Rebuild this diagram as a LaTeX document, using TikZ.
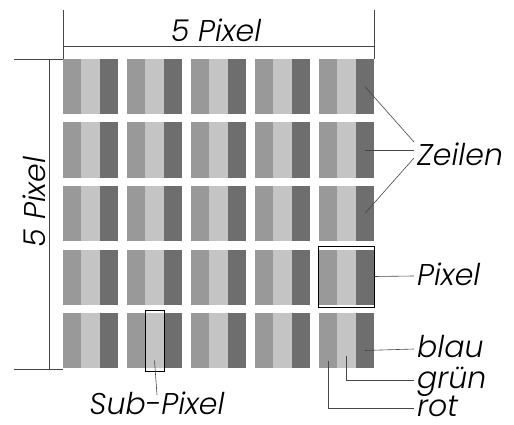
\documentclass[tikz,border=0pt]{standalone}
\usepackage{fontspec}
\setmainfont{Poppins}[UprightFont={* Light}, ItalicFont={* Light Italic}]
\usepackage{xcolor}
\definecolor{subRed}{RGB}{153, 153, 153}
\definecolor{subGreen}{RGB}{196, 196, 196}
\definecolor{subBlue}{RGB}{110, 110, 110}
\definecolor{lineGray}{RGB}{70, 70, 70}
\tikzset{
  subpix/.style={inner sep=0pt, minimum width=18.4pt, minimum height=55pt},
  dimline/.style={draw=lineGray, line width=0.8pt},
  leader/.style={draw=lineGray, line width=0.6pt},
  lbl/.style={font=\fontsize{30}{32}\selectfont\itshape, inner sep=3pt}
}

\begin{document}
\begin{tikzpicture}[x=1pt, y=-1pt]
  \useasboundingbox (0,0) rectangle (514,425);

  % Pixel grid: 5 x 5 pixels, each three sub-pixels
  \foreach \c in {0,...,4} {
    \foreach \r in {0,...,4} {
      \node[subpix, fill=subRed]   (r-\c-\r) at ({63+64*\c+9.17},  {59+63.5*\r+27.5}) {};
      \node[subpix, fill=subGreen] (g-\c-\r) at ({63+64*\c+27.5},  {59+63.5*\r+27.5}) {};
      \node[subpix, fill=subBlue]  (b-\c-\r) at ({63+64*\c+45.83}, {59+63.5*\r+27.5}) {};
    }
  }

  % Dimension top
  \draw[dimline] (63,10) -- (63,59);
  \draw[dimline] (374,10) -- (374,59);
  \draw[dimline] (63,46.7) -- (374,46.7);
  \node[lbl, anchor=base] (top) at (216,42) {5 Pixel};

  % Dimension left
  \draw[dimline] (14,59) -- (63,59);
  \draw[dimline] (14,369) -- (63,369);
  \draw[dimline] (49,60) -- (49,369);
  \node[lbl, anchor=base, rotate=90, inner sep=0pt] (left) at (45,202) {5 Pixel};

  % Zeilen
  \node[lbl, anchor=base west] (zeilen) at (414,165) {Zeilen};
  \draw[leader] (b-4-0.center) -- ([yshift=23pt]zeilen.base west);
  \draw[leader] (b-4-1.center) -- ([yshift=15pt]zeilen.base west);
  \draw[leader] (b-4-2.center) -- ([yshift=7pt]zeilen.base west);

  % Pixel
  \node[draw=black, line width=0.8pt, inner sep=0pt, minimum width=56pt, minimum height=61pt] (pixbox) at (346,276.5) {};
  \node[lbl, anchor=base west] (pixel) at (414,285) {Pixel};
  \draw[leader] (pixbox.east) -- ([yshift=9pt]pixel.base west);

  % Sub-pixel colours
  \node[lbl, anchor=base west] (blau) at (414,357) {blau};
  \node[lbl, anchor=base west] (gruen) at (414,388) {grün};
  \node[lbl, anchor=base west] (rot) at (414,416) {rot};
  \draw[leader] ([yshift=-10pt]b-4-4.center) -- ([yshift=8pt]blau.base west);
  \draw[leader] ([yshift=-15pt]g-4-4.center) |- ([yshift=8pt]gruen.base west);
  \draw[leader] ([yshift=-20pt]r-4-4.center) |- ([yshift=8pt]rot.base west);

  % Sub-Pixel
  \node[draw=black, line width=0.8pt, inner sep=0pt, minimum width=19pt, minimum height=61pt] (subbox) at (g-1-4.center) {};
  \node[lbl, anchor=base] (sublbl) at (157,414) {Sub-Pixel};
  \draw[leader] ([yshift=-20pt]subbox.center) -- ([yshift=19pt]sublbl.base);
\end{tikzpicture}
\end{document}
